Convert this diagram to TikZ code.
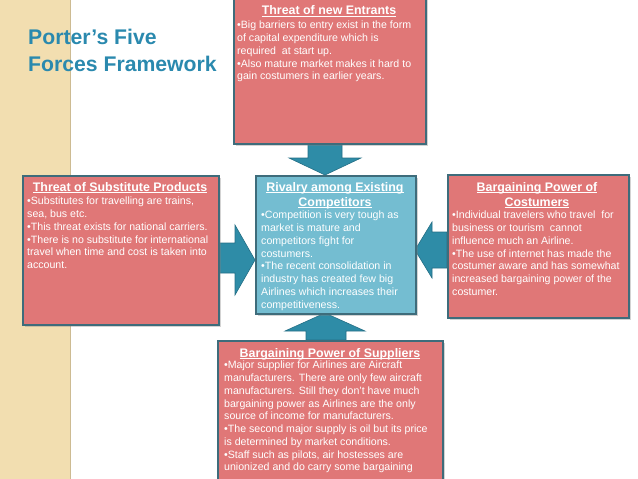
\documentclass[tikz,border=0pt]{standalone}
\usepackage{fontspec}
\setmainfont{Liberation Sans}
\usetikzlibrary{shadows,calc}
\definecolor{boxred}{HTML}{E07777}
\definecolor{boxblue}{HTML}{74BDD1}
\definecolor{boxline}{HTML}{3E6C7B}
\definecolor{arrowfill}{HTML}{2E8CA7}
\definecolor{arrowline}{HTML}{256F85}
\definecolor{titleteal}{HTML}{2A89AE}
\definecolor{beige}{HTML}{F2DEB0}
\definecolor{beigeedge}{HTML}{CDBB92}
\newcommand\hdul[1]{\underline{\smash{#1}}}
\begin{document}
\begin{tikzpicture}[x=1pt,y=-1pt,
  box/.style={draw=boxline, line width=2pt, inner sep=0pt, anchor=north west,
    drop shadow={opacity=0.35, shadow xshift=2pt, shadow yshift=-2pt}},
  head/.style={text=white, font=\fontsize{12.4}{15}\selectfont\bfseries, align=center, inner sep=0pt, anchor=base},
  body/.style={text=white, font=\fontsize{10.6}{12.75}\selectfont, align=left, inner sep=0pt, anchor=north west},
  fatarrow/.style={fill=arrowfill, draw=arrowline, line width=0.6pt, line join=miter}
]
\useasboundingbox (0,0) rectangle (638,479);
\clip (0,0) rectangle (638,479);
% background strip
\fill[beige] (0,0) rectangle (70,479);
\draw[beigeedge, line width=1.2pt] (70.5,0) -- (70.5,479);

% title (base anchor = last line)
\node[text=titleteal, font=\fontsize{21.2}{27}\selectfont\bfseries, align=left, inner sep=0pt, anchor=base west] (title) at (28,71) {Porter’s Five\\Forces Framework};

% arrows (drawn first, boxes on top)
\coordinate (dtip) at (325,175);
\coordinate (utip) at (325,313);
\coordinate (ltip) at (255,260);
\coordinate (rtip) at (415,250);
\path[fatarrow] (308,143) -- (342,143) -- (342,158) -- (361,158) -- (dtip) -- (289,158) -- (308,158) -- cycle;
\path[fatarrow] (306,340) -- (346,340) -- (346,331) -- (365,331) -- (utip) -- (285,331) -- (306,331) -- cycle;
\path[fatarrow] (218,243) -- (235,243) -- (235,225) -- (ltip) -- (235,295) -- (235,273) -- (218,273) -- cycle;
\path[fatarrow] (447,232) -- (432,232) -- (432,222) -- (rtip) -- (432,278) -- (432,268) -- (447,268) -- cycle;

% boxes
\node[box, fill=boxred, minimum width=192pt, minimum height=148pt] (entr) at (233,-5) {};
\node[box, fill=boxred, minimum width=196pt, minimum height=149pt] (subst) at (22,175) {};
\node[box, fill=boxblue, minimum width=160pt, minimum height=138pt] (rival) at (255,175) {};
\node[box, fill=boxred, minimum width=181pt, minimum height=143pt] (cust) at (447,174) {};
\node[box, fill=boxred, minimum width=225pt, minimum height=160pt] (supp) at (217,340) {};

% texts: threat of new entrants
\node[head] (entrH) at (329,15) {\hdul{Threat of new Entrants}};
\node[body] (entrB) at (237,21) {•Big barriers to entry exist in the form\\of capital expenditure which is\\required\ \ at start up.\\•Also mature market makes it hard to\\gain costumers in earlier years.};

% substitutes
\node[head] (substH) at (120,191) {\hdul{Threat of Substitute Products}};
\node[body] (substB) at (27,197) {•Substitutes for travelling are trains,\\sea, bus etc.\\•This threat exists for national carriers.\\•There is no substitute for international\\travel when time and cost is taken into\\account.};

% rivalry
\node[head] (rivalH) at (335,206) {\hdul{Rivalry among Existing}\\\hdul{Competitors}};
\node[body] (rivalB) at (261,211) {•Competition is very tough as\\market is mature and\\competitors fight for\\costumers.\\•The recent consolidation in\\industry has created few big\\Airlines which increases their\\competitiveness.};

% customers
\node[head] (custH) at (537,206) {\hdul{Bargaining Power of}\\\hdul{Costumers}};
\node[body] (custB) at (452,211) {•Individual travelers who travel\ \ for\\business or tourism\ \ cannot\\influence much an Airline.\\•The use of internet has made the\\costumer aware and has somewhat\\increased bargaining power of the\\costumer.};

% suppliers
\node[head] (suppH) at (330,357) {\hdul{Bargaining Power of Suppliers}};
\node[body] (suppB) at (224,361) {•Major supplier for Airlines are Aircraft\\manufacturers. There are only few aircraft\\manufacturers. Still they don’t have much\\bargaining power as Airlines are the only\\source of income for manufacturers.\\•The second major supply is oil but its price\\is determined by market conditions.\\•Staff such as pilots, air hostesses are\\unionized and do carry some bargaining};
\end{tikzpicture}
\end{document}
